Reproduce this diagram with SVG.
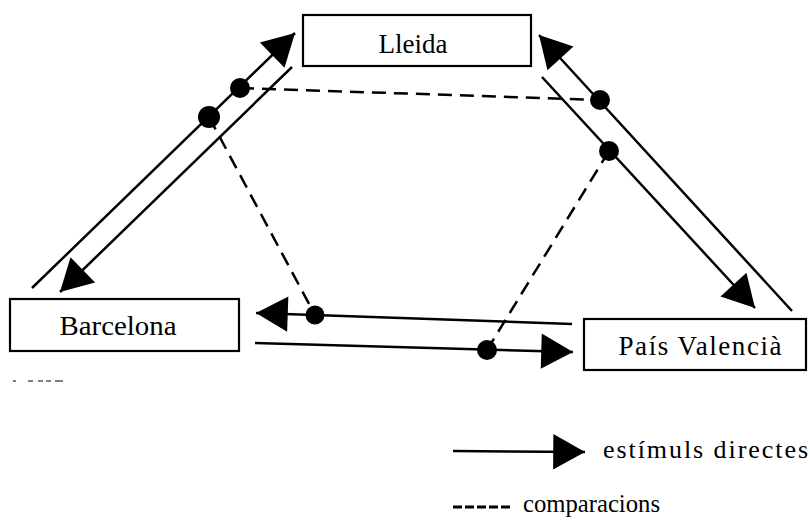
<svg xmlns="http://www.w3.org/2000/svg" width="810" height="531" viewBox="0 0 810 531">
<style>
.box{fill:#fff;stroke:#000;stroke-width:2.2}
.lbl{font-family:"Liberation Serif","DejaVu Serif",serif;font-size:27px;fill:#000}
.leg{font-family:"Liberation Serif","DejaVu Serif",serif;font-size:26px;fill:#000}
.arr{fill:none;stroke:#000;stroke-width:2.5;marker-end:url(#ah)}
.dash{fill:none;stroke:#000;stroke-width:2.5;stroke-dasharray:14 8}
.dot{fill:#000}
</style>
<defs>
<marker id="ah" markerUnits="userSpaceOnUse" markerWidth="40" markerHeight="40" viewBox="-30 -17 32 34" refX="0" refY="0" orient="auto">
<path d="M0,0 L-27,-15 L-27,15 Z" fill="#000"/>
</marker>
</defs>
<rect width="810" height="531" fill="#fff"/>
<g id="connectors">
<line class="arr" x1="32" y1="288" x2="295" y2="33"/>
<line class="arr" x1="292" y1="67" x2="60" y2="292"/>
<line class="arr" x1="792" y1="311" x2="539" y2="35"/>
<line class="arr" x1="542" y1="77" x2="755" y2="308"/>
<line class="arr" x1="572" y1="324" x2="256" y2="313"/>
<line class="arr" x1="255" y1="343" x2="573" y2="352"/>
<line class="dash" x1="240" y1="88" x2="600" y2="100"/>
<line class="dash" x1="209" y1="117" x2="315" y2="315"/>
<line class="dash" x1="609" y1="151" x2="487" y2="350"/>
<circle class="dot" cx="240" cy="88" r="10"/>
<circle class="dot" cx="209" cy="117" r="11"/>
<circle class="dot" cx="600" cy="100" r="10"/>
<circle class="dot" cx="609" cy="151" r="10"/>
<circle class="dot" cx="315" cy="315" r="9.5"/>
<circle class="dot" cx="487" cy="350" r="10"/>
</g>
<g id="lleida">
<rect class="box" x="303" y="15" width="228" height="51"/>
<text class="lbl" x="413" y="53" text-anchor="middle" textLength="69" lengthAdjust="spacingAndGlyphs">Lleida</text>
</g>
<g id="barcelona">
<rect class="box" x="10" y="299" width="229" height="52"/>
<text class="lbl" x="118" y="335" text-anchor="middle" textLength="117" lengthAdjust="spacingAndGlyphs">Barcelona</text>
</g>
<g id="pais-valencia">
<rect class="box" x="584" y="319" width="222" height="51"/>
<text class="lbl" x="700" y="355" text-anchor="middle" textLength="163" lengthAdjust="spacing">País Valencià</text>
</g>
<g id="legend">
<line class="arr" x1="453" y1="451" x2="585" y2="452"/>
<text class="leg" x="603" y="458" textLength="205" lengthAdjust="spacing">estímuls directes</text>
<line class="dash" x1="453" y1="507" x2="510" y2="507" style="stroke-dasharray:9 3;stroke-width:3"/>
<text class="leg" x="523" y="512" textLength="137" lengthAdjust="spacingAndGlyphs">comparacions</text>
</g>
<g id="specks" stroke="#555" stroke-width="1.5">
<line x1="13" y1="381" x2="16" y2="381"/>
<line x1="28" y1="381" x2="33" y2="381"/>
<line x1="38" y1="381" x2="43" y2="381"/>
<line x1="46" y1="381" x2="51" y2="381"/>
<line x1="55" y1="381" x2="63" y2="381"/>
</g>
</svg>
